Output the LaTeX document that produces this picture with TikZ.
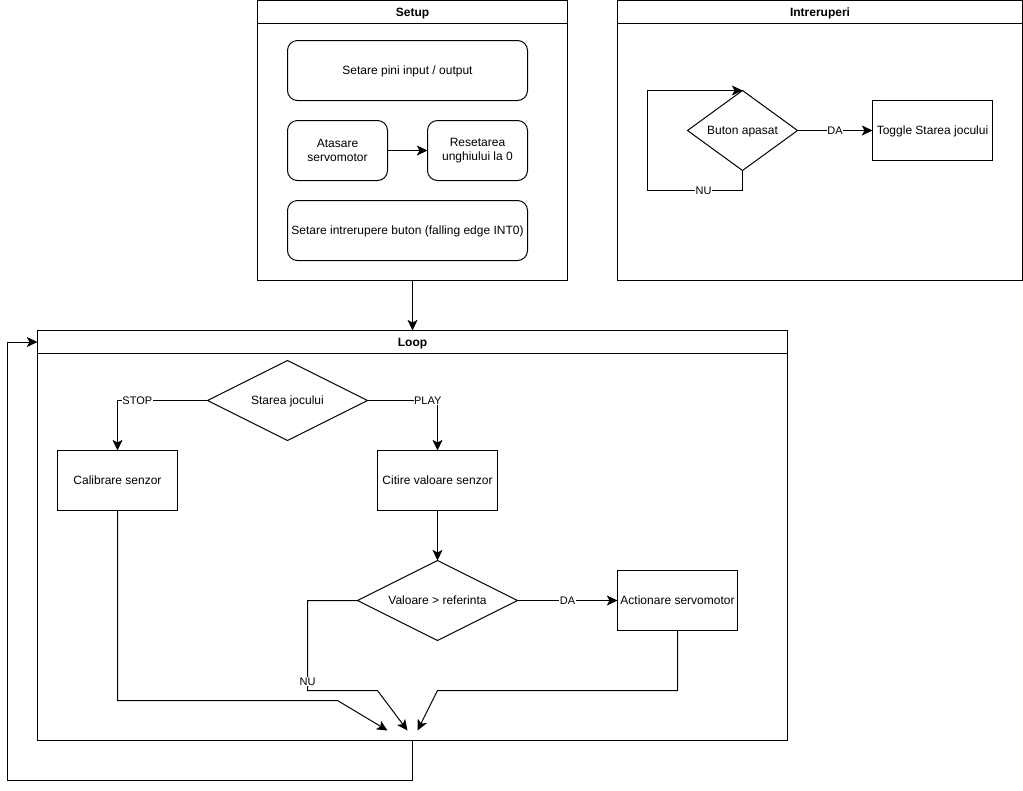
\documentclass[tikz,border=0pt]{standalone}
\usepackage{fontspec}
\setmainfont{Liberation Sans}
\usetikzlibrary{positioning,shapes.geometric,arrows.meta}
\tikzset{
	base/.style={draw, outer sep=0pt, inner sep=0pt, line width=0.75pt, align=center, font=\fontsize{9}{11}\selectfont},
	oneline/.style={text height=6.8pt, text depth=0.2pt},
	lane/.style={base, anchor=north west},
	lanehead/.style={base, oneline, anchor=north, minimum height=17.25pt, font=\fontsize{9}{11}\selectfont\bfseries},
	roundbox/.style={base, rounded corners=7.5pt, minimum height=45pt},
	stepbox/.style={base, oneline, minimum width=90pt, minimum height=45pt},
	choice/.style={base, oneline, diamond, aspect=2, minimum width=120pt, minimum height=60pt},
	flow/.style={line width=0.75pt, -{Stealth[length=8pt,width=7.5pt,inset=2pt]}},
	lbl/.style={fill=white, inner sep=0.4pt, font=\fontsize{8.25}{10}\selectfont},
}
\begin{document}
\begin{tikzpicture}[x=0.75pt, y=-0.75pt]
	\useasboundingbox (0,0) rectangle (1023,790);

	\node [lane, minimum width=232.5pt, minimum height=210pt] (setup) at (257.5,0.5) {};
	\node [lanehead, minimum width=232.5pt] (setuphead) at (setup.north) {Setup};
	\node [roundbox, oneline, minimum width=180pt] (pini) at (407.5,70.5) {Setare pini input / output};
	\node [roundbox, minimum width=75pt, below right=15pt and 0pt of pini.south west] (atasare) {Atasare\\servomotor};
	\node [roundbox, minimum width=75pt, right=30pt of atasare] (resetare) {Resetarea\\unghiului la 0};
	\node [roundbox, oneline, minimum width=180pt, below right=15pt and 0pt of atasare.south west] (buton) {Setare intrerupere buton (falling edge INT0)};

	\node [lane, minimum width=303.75pt, minimum height=210pt] (intr) at (617.5,0.5) {};
	\node [lanehead, minimum width=303.75pt] (intrhead) at (intr.north) {Intreruperi};
	\node [choice, aspect=1.375, minimum width=82.5pt] (apasat) at (742.5,130.5) {Buton apasat};
	\node [stepbox] (toggle) at (932.5,130.5) {Toggle Starea jocului};
	\coordinate (nuback) at (647.5,190.5);

	\node [lane, minimum width=562.5pt, minimum height=307.5pt] (loop) at (37.5,330.5) {};
	\node [lanehead, minimum width=562.5pt] (loophead) at (loop.north) {Loop};
	\node [choice] (starea) at (287.5,400.5) {Starea jocului};
	\node [stepbox] (calibrare) at (117.5,480.5) {Calibrare senzor};
	\node [stepbox, right=150pt of calibrare] (citire) {Citire valoare senzor};
	\node [choice] (valoare) at (437.5,600.5) {Valoare > referinta};
	\node [stepbox] (actionare) at (677.5,600.5) {Actionare servomotor};

	\coordinate (calbend) at (337.5,700.5);
	\coordinate (nu1) at (307.5,690.5);
	\coordinate (nu2) at (377.5,690.5);
	\coordinate (actbend) at (437.5,690.5);
	\coordinate (end1) at (387.5,730.5);
	\coordinate (end2) at (407.5,730.5);
	\coordinate (end3) at (417.5,730.5);
	\coordinate (back) at (7.5,780.5);

	\draw [flow] (atasare) -- (resetare);
	\draw [flow] (setup.south) -- (loop.north);
	\draw [flow] (apasat.east) -- node [lbl] {DA} (toggle.west);
	\draw [flow] (apasat.south) |- node [lbl, pos=0.705] {NU} (nuback) |- (apasat.north);
	\draw [flow] (starea.west) -| node [lbl, pos=0.39] {STOP} (calibrare.north);
	\draw [flow] (starea.east) -| node [lbl, pos=0.43] {PLAY} (citire.north);
	\draw [flow] (citire.south) -- (valoare.north);
	\draw [flow] (valoare.east) -- node [lbl] {DA} (actionare.west);
	\draw [flow] (valoare.west) -| node [lbl, pos=0.95] {NU} (nu1) -- (nu2) -- (end2);
	\draw [flow] (calibrare.south) |- (calbend) -- (end1);
	\draw [flow] (actionare.south) |- (actbend) -- (end3);
	\draw [flow] (loop.south) |- (back) |- (loophead.west);
\end{tikzpicture}
\end{document}
